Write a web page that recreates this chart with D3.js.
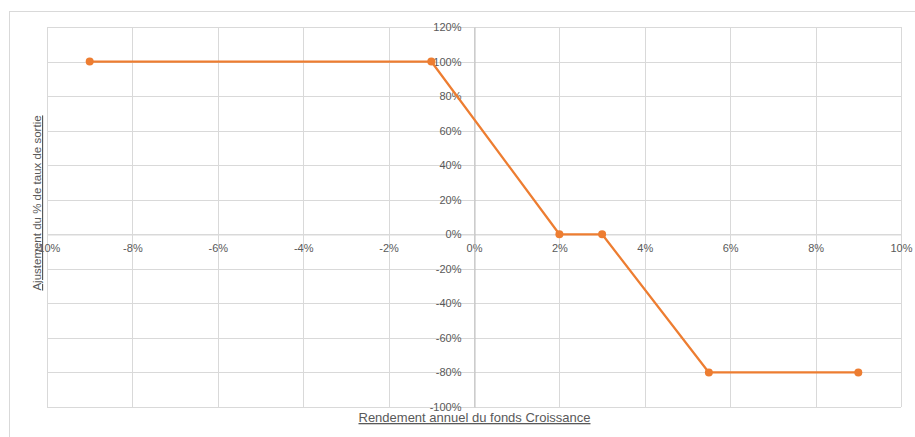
<!DOCTYPE html>
<html>
<head>
<meta charset="utf-8">
<script src="https://cdn.jsdelivr.net/npm/d3@7"></script>
<style>
  html, body { margin: 0; padding: 0; background: #fff; }
  svg { display: block; }
  text { font-family: "Liberation Sans", Arial, sans-serif; fill: #595959; }
</style>
</head>
<body>
<svg id="chart" width="915" height="437"></svg>
<script>
// Data
const returns = [-9, -1, 2, 3, 5.5, 9];          // Rendement annuel (%)
const adjustments = [100, 100, 0, 0, -80, -80];  // Ajustement (%)
const xTicks = [-10, -8, -6, -4, -2, 0, 2, 4, 6, 8, 10];
const yTicks = [-100, -80, -60, -40, -20, 0, 20, 40, 60, 80, 100, 120];
const xTitle = "Rendement annuel du fonds Croissance";
const yTitle = "Ajustement du % de taux de sortie";

const svg = d3.select("#chart");
const W = 915, H = 437;
const plot = { left: 47, right: 901, top: 27, bottom: 407 };

const x = d3.scaleLinear().domain([-10, 10]).range([plot.left, plot.right]);
const y = d3.scaleLinear().domain([-100, 120]).range([plot.bottom, plot.top]);

// Outer chart border
svg.append("rect")
  .attr("x", 9.5).attr("y", 11.5)
  .attr("width", W + 20).attr("height", H + 20)
  .attr("fill", "none").attr("stroke", "#d9d9d9").attr("stroke-width", 1);

// Gridlines
const grid = svg.append("g");
grid.selectAll("line.v").data(xTicks).join("line")
  .attr("x1", d => Math.round(x(d)) + 0.5).attr("x2", d => Math.round(x(d)) + 0.5)
  .attr("y1", plot.top).attr("y2", plot.bottom)
  .attr("stroke", "#d9d9d9").attr("stroke-width", 1);
grid.selectAll("line.h").data(yTicks).join("line")
  .attr("y1", d => Math.round(y(d)) + 0.5).attr("y2", d => Math.round(y(d)) + 0.5)
  .attr("x1", plot.left).attr("x2", plot.right)
  .attr("stroke", "#d9d9d9").attr("stroke-width", 1);

// Axes (crossing at zero)
const xAxis = d3.axisBottom(x).tickValues(xTicks).tickSize(0).tickPadding(10)
  .tickFormat(d => d + "%");
const xg = svg.append("g")
  .attr("transform", `translate(0,${Math.round(y(0)) + 0.5})`)
  .call(xAxis);
xg.select(".domain").attr("stroke", "#d9d9d9");
xg.selectAll("text").attr("font-size", 11).attr("font-family", "Liberation Sans, Arial, sans-serif").attr("fill", "#595959");

const yAxis = d3.axisLeft(y).tickValues(yTicks).tickSize(0).tickPadding(13)
  .tickFormat(d => d + "%");
const yg = svg.append("g")
  .attr("transform", `translate(${Math.round(x(0)) + 0.5},0)`)
  .call(yAxis);
yg.select(".domain").attr("stroke", "#bfbfbf");
yg.selectAll("text").attr("font-size", 11).attr("font-family", "Liberation Sans, Arial, sans-serif").attr("fill", "#595959");

// Line
const pts = returns.map((r, i) => [r, adjustments[i]]);
svg.append("path")
  .datum(pts)
  .attr("fill", "none")
  .attr("stroke", "#ED7D31")
  .attr("stroke-width", 2.25)
  .attr("stroke-linejoin", "round")
  .attr("d", d3.line().x(d => x(d[0])).y(d => y(d[1])));

svg.append("g").selectAll("circle").data(pts).join("circle")
  .attr("cx", d => x(d[0])).attr("cy", d => y(d[1]))
  .attr("r", 4).attr("fill", "#ED7D31");

// Axis titles
svg.append("text")
  .attr("x", 474.5).attr("y", 422)
  .attr("text-anchor", "middle")
  .attr("font-size", 13)
  .attr("text-decoration", "underline")
  .text(xTitle);

svg.append("text")
  .attr("transform", `translate(41,203) rotate(-90)`)
  .attr("text-anchor", "middle")
  .attr("font-size", 11.5)
  .attr("text-decoration", "underline")
  .text(yTitle);
</script>
</body>
</html>
